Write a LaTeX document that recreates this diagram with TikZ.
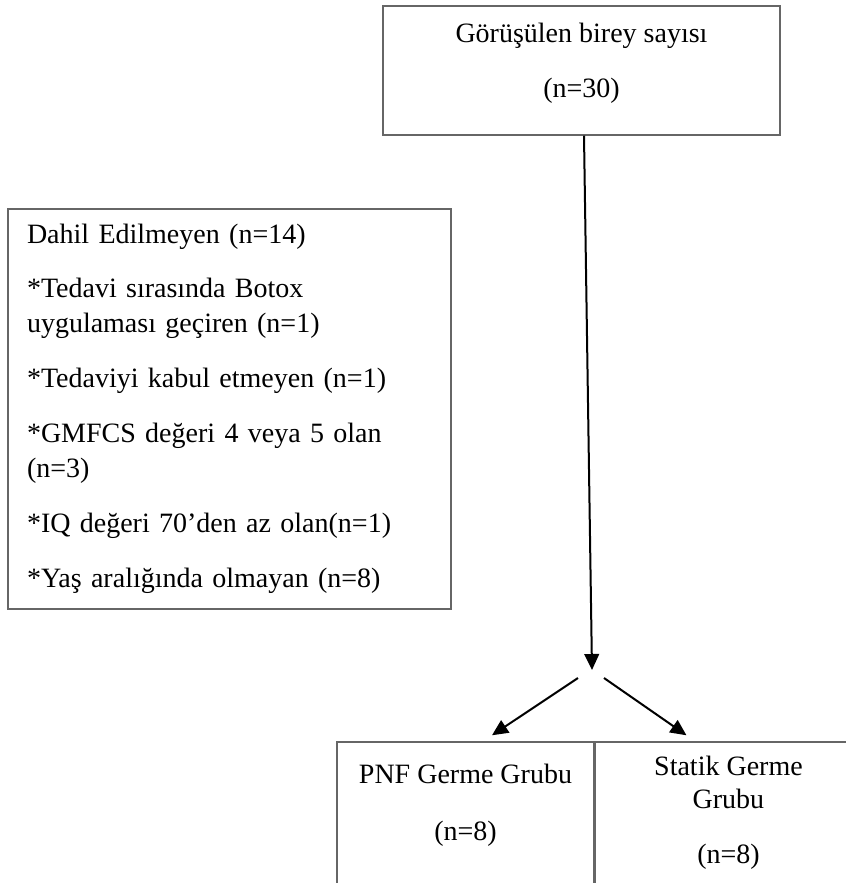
\documentclass[tikz,border=0pt]{standalone}
\usepackage{fontspec}
\setmainfont{Liberation Serif}
\usetikzlibrary{arrows.meta, positioning}
\tikzstyle{box} = [rectangle, draw=black!60, line width=1.1pt, inner sep=0pt, text centered, font=\fontsize{21}{26.25}\selectfont]
\tikzstyle{arrow} = [line width=1.5pt, -{Triangle[length=12pt,width=11pt]}]

\begin{document}
\begin{tikzpicture}[x=0.75pt, y=-0.75pt]
    \useasboundingbox (0,0) rectangle (846,883);
    \node (seen) [box, minimum width=297.75pt, minimum height=96.75pt, align=center, text depth=15pt] at (581.5,70.5) {G\"or\"u\c{s}\"ulen birey say\i s\i\\[15pt](n=30)};
    \node (excl) [box, minimum height=300pt, text width=303.75pt, inner xsep=14.25pt, align=left] at (229.5,409) {Dahil Edilmeyen (n=14)\\[14.25pt]
        *Tedavi s\i ras\i nda Botox\\ uygulamas\i\ ge\c{c}iren (n=1)\\[15pt]
        *Tedaviyi kabul etmeyen (n=1)\\[15pt]
        *GMFCS de\u{g}eri 4 veya 5 olan\\ (n=3)\\[15pt]
        *IQ de\u{g}eri 70’den az olan(n=1)\\[15pt]
        *Ya\c{s} aral\i\u{g}\i nda olmayan (n=8)};
    \node (pnf) [box, minimum width=192.75pt, minimum height=106.5pt, align=center, text depth=16.5pt] at (465.5,813) {PNF Germe Grubu\\[16.5pt](n=8)};
    \node (static) [box, minimum width=199.5pt, minimum height=106.5pt, align=center, right=0pt of pnf] {Statik Germe\\[-1.5pt]Grubu\\[15pt](n=8)};

    \coordinate (split) at (592,670);
    \coordinate (fromL) at (578,678);
    \coordinate (fromR) at (604,678);

    \draw [arrow] ([shift={(2.5,0)}]seen.south) -- (split);
    \draw [arrow] (fromL) -- ([shift={(26.5,-6)}]pnf.north);
    \draw [arrow] (fromR) -- ([shift={(-42,-6)}]static.north);
\end{tikzpicture}
\end{document}
